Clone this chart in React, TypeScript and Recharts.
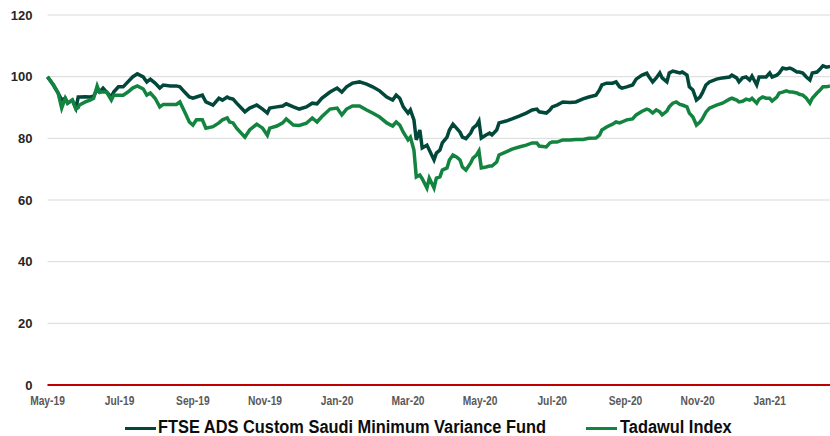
import React from 'react';
import { LineChart, Line, XAxis, YAxis, CartesianGrid } from 'recharts';

// Day offsets from 1 May 2019
const days = [
  0, 5, 9, 12, 15, 17, 21, 24, 26, 27, 32, 36, 39, 42, 44, 47, 50, 54, 56, 60,
  64, 68, 72, 76, 81, 84, 87, 91, 95, 98, 104, 109, 112, 116, 120, 123, 126, 131, 134, 140,
  145, 148, 152, 154, 157, 160, 167, 171, 177, 182, 186, 188, 194, 199, 202, 208, 213, 219, 224, 228,
  232, 239, 245, 249, 253, 258, 264, 270, 275, 281, 287, 292, 295, 298, 301, 305, 307, 310, 312, 315,
  317, 321, 323, 327, 329, 332, 334, 338, 340, 343, 346, 349, 351, 354, 358, 360, 363, 365, 367, 371,
  374, 376, 380, 382, 388, 393, 399, 405, 410, 414, 416, 422, 425, 427, 431, 436, 442, 447, 453, 458,
  464, 467, 469, 473, 478, 481, 484, 486, 490, 495, 498, 503, 507, 509, 512, 515, 518, 520, 524, 526,
  529, 532, 535, 537, 541, 543, 546, 549, 552, 554, 557, 560, 566, 571, 577, 579, 583, 585, 588, 591,
  594, 596, 600, 602, 605, 608, 611, 613, 617, 619, 622, 625, 628, 630, 634, 636, 639, 642, 645, 647,
  651, 653, 656, 659, 662,
];

const fundValues = [
  100, 97.3, 94.7, 92.4, 93, 91.4, 92.4, 89.8, 93.4, 93.4, 93.5, 93.4, 93.7, 95.7, 95, 96.3, 95, 93.4, 95, 96.7,
  96.7, 98.3, 99.9, 100.9, 99.9, 98.3, 99.2, 97.9, 96.3, 97.3, 97, 97, 96.7, 95, 93.4, 93, 93.4, 94, 91.8, 90.8,
  93, 92.4, 93.4, 93, 92.7, 91.4, 88.6, 89.8, 90.8, 89.5, 88.2, 89.8, 90.2, 90.5, 91.2, 90.2, 89.5, 90.2, 91.4, 91.2,
  93, 95, 96.3, 95, 96.7, 97.9, 98.3, 97.6, 96.7, 95.4, 93.4, 92.4, 94, 93, 90.2, 88.2, 89.2, 86, 79.5, 82.7,
  76.9, 77.8, 76.2, 73, 75.2, 76.2, 78.5, 80.4, 82.7, 84.6, 83.3, 82, 80.4, 79.9, 81.7, 83.3, 84.3, 85.6, 80.1, 81.1,
  81.7, 81.1, 82.7, 85, 85.6, 86.3, 87.2, 88.2, 89.2, 89.5, 88.6, 88.2, 89.2, 90.2, 90.8, 91.8, 91.6, 91.8, 92.8, 93.4,
  94, 95.7, 97.3, 97.9, 97.9, 98.3, 96.7, 96.3, 96.7, 97.3, 99.2, 100.5, 101.1, 99.9, 98.3, 99.6, 101.2, 99.6, 98.3, 101.2,
  101.8, 101.5, 101.2, 101.5, 100.5, 96.7, 95.7, 92.4, 93.4, 94.7, 97.3, 98.3, 99.2, 99.6, 99.9, 100.5, 99.6, 98.3, 99.6, 99.9,
  98.9, 100.2, 97.3, 99.9, 99.9, 99.9, 101.2, 99.9, 100.5, 101.2, 102.8, 102.5, 102.8, 102.5, 101.5, 101.5, 101.2, 99.9, 98.9, 101.2,
  101.5, 102.2, 103.5, 103.1, 103.3,
];

const tadawulValues = [
  100, 97.3, 94.7, 89.8, 93, 91.4, 92.4, 89.5, 90, 90.8, 91.8, 92.4, 93, 97, 95, 95, 95, 92.4, 94, 94,
  94, 95, 96.3, 97, 96, 94, 94.7, 93, 90.2, 91, 91, 91, 91.8, 88.6, 85.3, 84.3, 86, 86, 83.3, 83.8,
  85, 86, 86.6, 85.3, 85, 83.3, 80.4, 82.7, 84.6, 83.3, 81, 83.3, 84, 85, 86.3, 84.3, 84.2, 84.9, 86.6, 85.3,
  87, 89.5, 89.8, 87.6, 89.5, 90.5, 90.5, 89.2, 88.2, 86.9, 85, 84, 85.3, 84.3, 82, 79.5, 80.4, 76.2, 67.5, 68.1,
  66.9, 63.9, 67.1, 63.9, 67.1, 67.5, 69.7, 70.4, 73, 74.6, 74, 73, 70.7, 69.7, 72, 73.6, 74.6, 75.9, 70.4, 70.7,
  71, 71, 72.3, 74.6, 75.6, 76.5, 77.2, 77.8, 78.5, 78.5, 77.5, 77.2, 78.5, 78.8, 78.8, 79.5, 79.5, 79.6, 79.6, 80,
  80.1, 81, 82.7, 83.7, 84.6, 85.3, 85, 85.3, 86, 86.3, 87.6, 88.8, 89.5, 89.2, 88.2, 89.2, 88.6, 87.6, 88.8, 90.2,
  91.4, 91.8, 91, 90.8, 90.2, 88.2, 86.9, 84.3, 85.3, 86.3, 88.5, 89.8, 90.8, 91.4, 92.7, 93, 92.4, 91.8, 92, 92.7,
  92.4, 93, 91.4, 92.7, 93.4, 93, 93, 92.1, 93.4, 94.7, 95, 95.4, 95, 95, 94.7, 94.3, 94, 93, 91.4, 93,
  94.7, 95.4, 96.7, 96.7, 97,
];

const tickDays = [0, 61, 123, 184, 245, 305, 366, 427, 489, 550, 611];
const tickLabels = ['May-19', 'Jul-19', 'Sep-19', 'Nov-19', 'Jan-20', 'Mar-20', 'May-20', 'Jul-20', 'Sep-20', 'Nov-20', 'Jan-21'];
const yTicks = [0, 20, 40, 60, 80, 100, 120];

const seriesNames = ['FTSE ADS Custom Saudi Minimum Variance Fund', 'Tadawul Index'];
const FUND_COLOR = '#02483A';
const INDEX_COLOR = '#138440';
const NARROW = '"Liberation Sans", Arial, sans-serif';

const data = days.map((d, i) => ({ day: d, fund: fundValues[i], tadawul: tadawulValues[i] }));

const labelFor = (v: number) => {
  const idx = tickDays.indexOf(v);
  return idx >= 0 ? tickLabels[idx] : '';
};

const XTick = (props: any) => {
  const { x, y, payload } = props;
  return (
    <g transform={`translate(${x},${y})`}>
      <text
        transform="scale(0.82,1)"
        x={0}
        y={0}
        dy="0.71em"
        textAnchor="middle"
        fill="#595959"
        fontSize={12.5}
        fontWeight={700}
        fontFamily={NARROW}
      >
        {labelFor(payload.value)}
      </text>
    </g>
  );
};

const legendItems = [
  { color: FUND_COLOR, lineLeft: 125, textLeft: 158 },
  { color: INDEX_COLOR, lineLeft: 586, textLeft: 620 },
];

export default function App() {
  return (
    <div style={{ position: 'absolute', left: 0, top: 0, width: 830, height: 436, background: '#fff', overflow: 'hidden' }}>
      <LineChart width={830} height={436} data={data} margin={{ top: 15, right: 0, left: 0, bottom: 21 }}>
        <CartesianGrid vertical={false} stroke="#D9D9D9" strokeWidth={1} />
        <XAxis
          dataKey="day"
          type="number"
          domain={[0, 662]}
          ticks={tickDays}
          interval={0}
          tickFormatter={labelFor}
          height={30}
          tickSize={0}
          tickMargin={11}
          axisLine={{ stroke: '#C00000', strokeWidth: 2 }}
          tick={<XTick />}
        />
        <YAxis
          domain={[0, 120]}
          ticks={yTicks}
          interval={0}
          width={47.5}
          tickSize={0}
          tickMargin={15}
          axisLine={false}
          tickLine={false}
          tick={{ fill: '#262626', fontSize: 13, fontWeight: 700, fontFamily: '"Liberation Sans", Arial, sans-serif' }}
        />
        <Line type="linear" dataKey="fund" name={seriesNames[0]} stroke={FUND_COLOR} strokeWidth={3.5} dot={false} isAnimationActive={false} />
        <Line type="linear" dataKey="tadawul" name={seriesNames[1]} stroke={INDEX_COLOR} strokeWidth={3.5} dot={false} isAnimationActive={false} />
      </LineChart>
      {legendItems.map((it, i) => (
        <React.Fragment key={i}>
          <div style={{ position: 'absolute', left: it.lineLeft, top: 427, width: 31, height: 3, background: it.color }} />
          <div
            style={{
              position: 'absolute',
              left: it.textLeft,
              top: 419,
              height: 17,
              lineHeight: '17px',
              whiteSpace: 'nowrap',
              fontFamily: NARROW,
              fontWeight: 700,
              fontSize: 18,
              color: '#0D0D0D',
              transform: 'scaleX(0.91)',
              transformOrigin: 'left center',
            }}
          >
            {seriesNames[i]}
          </div>
        </React.Fragment>
      ))}
    </div>
  );
}
